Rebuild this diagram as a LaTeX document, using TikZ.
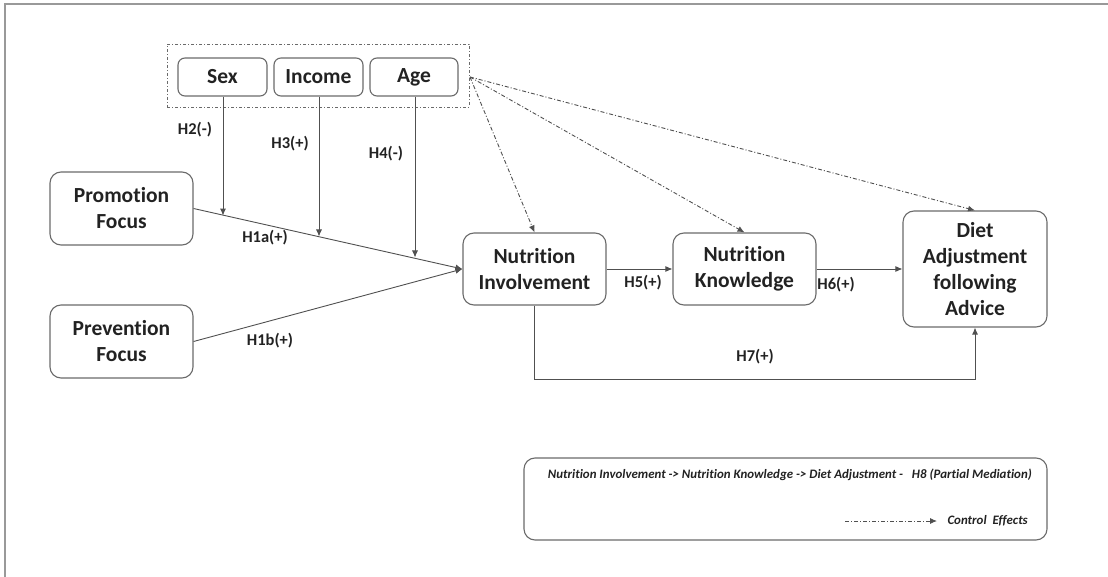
\documentclass[tikz,border=0pt]{standalone}
\usepackage{fontspec}
\setmainfont{Carlito}[Ligatures=NoCommon]
\usetikzlibrary{arrows.meta}
\definecolor{ln}{HTML}{505050}
\definecolor{bx}{HTML}{6A6A6A}
\definecolor{tx}{HTML}{222222}
\tikzset{
  box/.style={draw=bx, line width=1.1pt, rounded corners=11pt, inner sep=0pt, align=center,
    text=tx, font=\fontsize{21.5}{26}\selectfont\bfseries},
  cbox/.style={box, rounded corners=7pt},
  grp/.style={draw=bx, line width=0.9pt, dash pattern=on 3pt off 2pt on 1pt off 2pt, inner sep=0pt},
  arr/.style={draw=ln, line width=0.9pt, -{Latex[length=7pt,width=6pt]}},
  ctrl/.style={arr, dash pattern=on 4pt off 2pt on 1pt off 2pt},
  lab/.style={text=tx, font=\fontsize{16.5}{18}\selectfont\bfseries, inner sep=0pt},
  leg/.style={text=tx, font=\fontsize{12.9}{14}\selectfont\bfseries\itshape, inner sep=0pt},
}
\begin{document}
\begin{tikzpicture}[x=1pt,y=-1pt]
\useasboundingbox (0,0) rectangle (1108,577);
\draw[draw=gray!80, line width=1.2pt] (5,577) -- (5,4) -- (1108,4);

\node[grp, minimum width=302pt, minimum height=63pt] (grp) at (318,75.5) {};
\node[cbox, minimum width=89pt, minimum height=38pt] (sex) at (222.5,77) {Sex};
\node[cbox, minimum width=89pt, minimum height=38pt] (inc) at (318.5,77) {Income};
\node[cbox, minimum width=88pt, minimum height=38pt] (age) at (414,77) {Age};

\node[box, minimum width=143pt, minimum height=73pt] (pf) at (121.5,208.5) {Promotion\\Focus};
\node[box, minimum width=143pt, minimum height=73pt] (pv) at (121.5,341.5) {Prevention\\Focus};
\node[box, minimum width=143pt, minimum height=72pt] (ni) at (534.5,269) {Nutrition\\Involvement};
\node[box, minimum width=143pt, minimum height=72pt] (nk) at (744.5,269) {Nutrition\\Knowledge};
\node[box, minimum width=144pt, minimum height=116pt] (da) at (975,269) {Diet\\Adjustment\\following\\Advice};

\node[draw=bx, line width=1.1pt, rounded corners=11pt, minimum width=523pt, minimum height=82pt, inner sep=0pt] (lg) at (785.5,499) {};
\node[leg, anchor=east] (lt1) at (1032,475) {Nutrition Involvement -> Nutrition Knowledge -> Diet Adjustment -\ \ \ H8 (Partial Mediation)};
\node[leg, anchor=east] (lt2) at (1028,521) {Control\ \ Effects};
\coordinate (la) at (845,521);
\coordinate (lb) at (937,521);
\draw[ctrl] (la) -- (lb);

% main paths
\draw[arr] (pf.east) -- (ni.west);
\draw[arr] (pv.east) -- (ni.west);
\draw[arr] (ni.east) -- (nk.west);
\draw[arr] (nk.east) -- (da.west);
\coordinate (h7a) at (534.5,379);
\coordinate (h7b) at (975,379);
\draw[arr] (ni.south) -- (h7a) -- (h7b) -- (da.south);

% moderators
\coordinate (m1) at (223,215.6);
\coordinate (m2) at (319,236.5);
\coordinate (m3) at (415,257.5);
\draw[arr] (sex.south -| m1) -- (m1);
\draw[arr] (inc.south -| m2) -- (m2);
\draw[arr] (age.south -| m3) -- (m3);

% control effects
\coordinate (cs) at (470,77);
\draw[ctrl] (cs) -- (ni.north);
\draw[ctrl] (cs) -- (nk.north);
\draw[ctrl] (cs) -- (da.north);

% labels
\node[lab] (l2) at (195,130) {H2(-)};
\node[lab] (l3) at (290,144) {H3(+)};
\node[lab] (l4) at (386,154) {H4(-)};
\node[lab] (l1a) at (265,238) {H1a(+)};
\node[lab] (l1b) at (270,341) {H1b(+)};
\node[lab] (l5) at (643,283) {H5(+)};
\node[lab] (l6) at (836,285) {H6(+)};
\node[lab] (l7) at (755,357) {H7(+)};
\end{tikzpicture}
\end{document}
